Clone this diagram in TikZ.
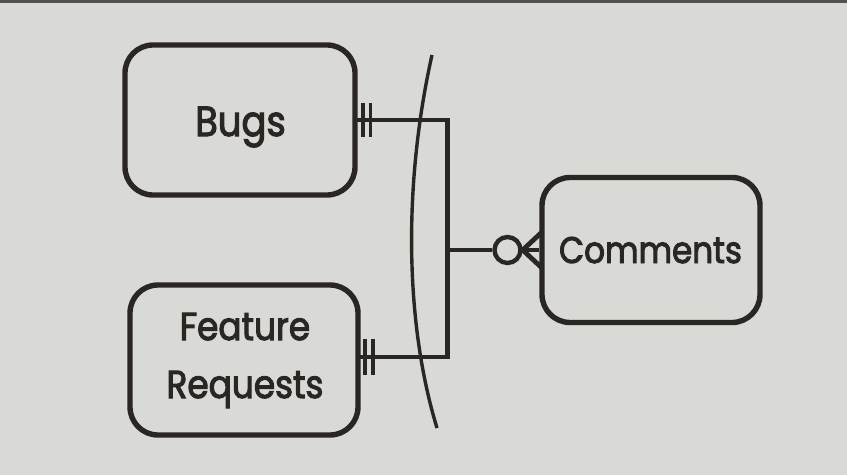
\documentclass[tikz,border=0pt]{standalone}
\usepackage{fontspec}
\setmainfont{Poppins}[FakeStretch=0.88, FakeBold=2.6]
\definecolor{paper}{HTML}{D9DAD5}
\definecolor{ink}{HTML}{2A2624}
\tikzset{
  entity/.style={draw=ink, line width=5.4pt, rounded corners=28pt, inner sep=0pt},
  label/.style={anchor=base, inner sep=0pt, text=ink},
  link/.style={draw=ink, line width=4.8pt},
  bar/.style={draw=ink, line width=3.8pt},
}
\begin{document}
\begin{tikzpicture}[x=1pt,y=-1pt]
\fill[paper] (0,0) rectangle (847,475);
\useasboundingbox (0,0) rectangle (847,475);
\fill[ink!80] (0,0) rectangle (847,2.5);
\node[entity, minimum width=230pt, minimum height=150pt] (bugs) at (240,120) {};
\node[entity, minimum width=228pt, minimum height=150pt] (fr) at (244,360) {};
\node[entity, minimum width=218pt, minimum height=145pt] (com) at (651,250) {};
\node[label, font=\fontsize{42}{44}\selectfont] (bugslbl) at (240.5,136) {Bugs};
\node[label, font=\fontsize{39}{40}\selectfont] (frlbl1) at (245,340) {Feature};
\node[label, font=\fontsize{39}{40}\selectfont] (frlbl2) at (245,398) {Requests};
\node[label, font=\fontsize{37}{40}\selectfont] (comlbl) at (650.5,263) {Comments};
\coordinate (j) at (447.5,250);
\coordinate (bugsout) at (355,120);
\coordinate (frout) at (358,357);
\node[draw=ink, line width=4.4pt, circle, minimum size=26pt, inner sep=0pt] (circ) at (507.5,250) {};
\draw[link] (bugsout) -| (j);
\draw[link] (frout) -| (j);
\draw[link] (j) -- (circ.west);
% crow's foot
\coordinate (cf) at (circ.east);
\coordinate (cft) at (542,232);
\coordinate (cfb) at (542,268);
\draw[link] (cf) -- (com.west |- cf);
\draw[link] (cf) -- (cft);
\draw[link] (cf) -- (cfb);
% mandatory-one bars
\coordinate (b1t) at (363,103); \coordinate (b1b) at (363,137);
\coordinate (b2t) at (370.5,103); \coordinate (b2b) at (370.5,137);
\draw[bar] (b1t) -- (b1b);
\draw[bar] (b2t) -- (b2b);
\coordinate (f1t) at (365,339); \coordinate (f1b) at (365,375);
\coordinate (f2t) at (373,339); \coordinate (f2b) at (373,375);
\draw[bar] (f1t) -- (f1b);
\draw[bar] (f2t) -- (f2b);
% arc
\coordinate (at) at (432,55);
\coordinate (ab) at (437,428);
\draw[draw=ink, line width=3.4pt] (at) .. controls (404,180) and (404,320) .. (ab);
\end{tikzpicture}
\end{document}
